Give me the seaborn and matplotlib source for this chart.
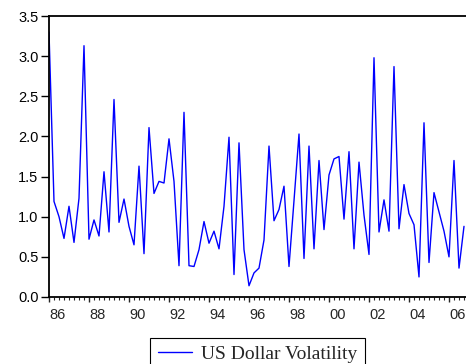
import pandas as pd
import matplotlib
matplotlib.use('Agg')
import matplotlib.pyplot as plt
import seaborn as sns

# quarterly observations, 1986Q1 onwards
start_quarter = '1986Q1'
volatility = [3.30, 1.19, 1.00, 0.73, 1.13, 0.68, 1.23, 3.13,
              0.72, 0.96, 0.76, 1.56, 0.81, 2.46, 0.93, 1.22,
              0.88, 0.65, 1.63, 0.54, 2.11, 1.29, 1.44, 1.42,
              1.97, 1.44, 0.39, 2.30, 0.39, 0.38, 0.59, 0.94,
              0.67, 0.82, 0.60, 1.13, 1.99, 0.28, 1.92, 0.59,
              0.14, 0.30, 0.36, 0.71, 1.88, 0.95, 1.09, 1.38,
              0.38, 1.20, 2.03, 0.48, 1.88, 0.60, 1.70, 0.84,
              1.52, 1.72, 1.75, 0.97, 1.81, 0.60, 1.68, 1.02,
              0.53, 2.98, 0.81, 1.21, 0.82, 2.87, 0.85, 1.40,
              1.04, 0.90, 0.25, 2.17, 0.43, 1.30, 1.06, 0.82,
              0.50, 1.70, 0.36, 0.88]
year_ticks = list(range(1986, 2008, 2))
year_labels = ['86', '88', '90', '92', '94', '96', '98', '00', '02', '04', '06']
y_ticks = [0.0, 0.5, 1.0, 1.5, 2.0, 2.5, 3.0, 3.5]
series_name = 'US Dollar Volatility'

periods = pd.period_range(start_quarter, periods=len(volatility), freq='Q')
df = pd.DataFrame({'t': periods.year + (periods.quarter - 1) / 4,
                   'value': volatility})

sns.set_style('ticks')
plt.rcParams['font.family'] = ['Liberation Sans', 'DejaVu Sans']

fig = plt.figure(figsize=(4.66, 3.64), dpi=100)
ax = fig.add_axes([49 / 466, 67 / 364, 425 / 466, 281 / 364])

sns.lineplot(x='t', y='value', data=df, ax=ax, color='#0000ff',
             linewidth=1.0, label=series_name)

ax.set_xlim(1986, 2007.25)
ax.set_ylim(0, 3.5)
ax.set_xlabel('')
ax.set_ylabel('')

for side in ['left', 'top', 'bottom']:
    ax.spines[side].set_linewidth(1.3)
    ax.spines[side].set_color('black')
ax.spines['right'].set_visible(False)

ax.set_yticks(y_ticks)
ax.set_yticklabels(['%.1f' % v for v in y_ticks], fontsize=10.5)
ax.tick_params(axis='y', direction='out', length=5.5, width=1, pad=2, colors='black')

# tick marks at even years and quarters, labels centred on each year
ax.set_xticks(year_ticks)
ax.set_xticklabels([])
ax.set_xticks(df['t'].tolist() + [2007.0], minor=True)
ax.tick_params(axis='x', which='major', direction='out', length=3.8, width=1)
ax.tick_params(axis='x', which='minor', direction='out', length=2.2, width=0.8)

sec = ax.secondary_xaxis('bottom')
sec.set_xticks([y + 0.45 for y in year_ticks])
sec.set_xticklabels(year_labels, fontsize=10.5)
sec.tick_params(length=0, pad=8)
sec.spines['bottom'].set_visible(False)

leg = ax.legend(loc='upper center', bbox_to_anchor=(257.5 / 466, 26.5 / 364),
                bbox_transform=fig.transFigure, frameon=True, fancybox=False,
                edgecolor='black', framealpha=1, handlelength=1.75,
                handletextpad=0.5, borderpad=0.4, borderaxespad=0,
                prop={'family': 'Liberation Serif', 'size': 14})
leg.get_frame().set_linewidth(0.8)

fig.savefig('out.png', dpi=100)
